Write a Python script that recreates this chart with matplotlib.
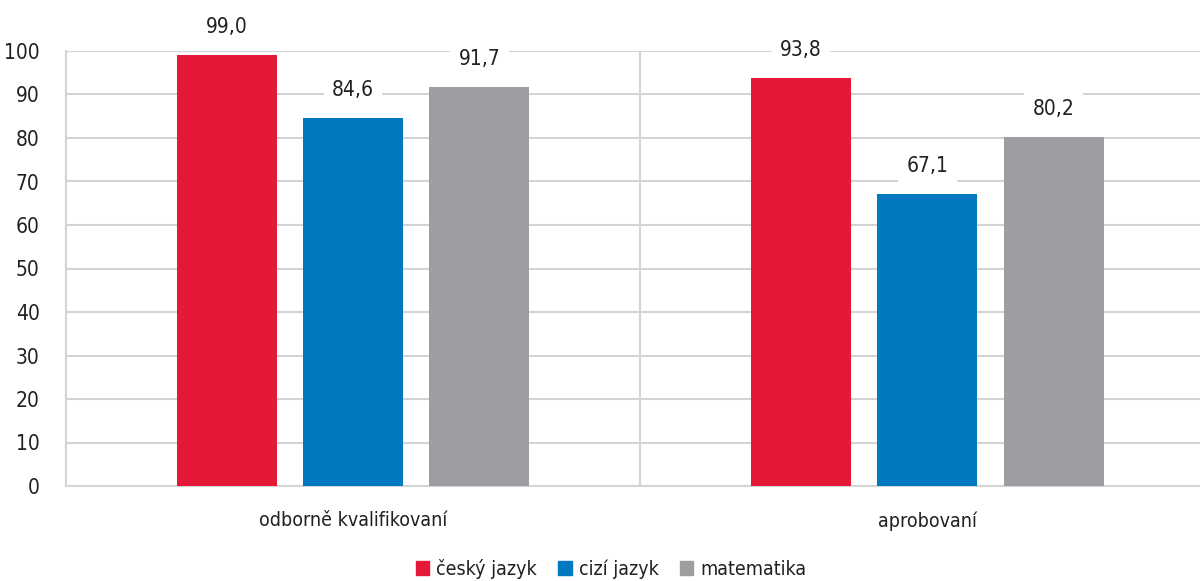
import numpy as np
from matplotlib import pyplot as plt
from matplotlib.patches import Patch

categories = ["odborně kvalifikovaní", "aprobovaní"]
series = ["český jazyk", "cizí jazyk", "matematika"]
values = [[99.0, 93.8], [84.6, 67.1], [91.7, 80.2]]
colors = ["#E41937", "#0079C1", "#9D9EA2"]
yticks = np.arange(0, 101, 10)

plt.rcParams['font.family'] = ['DejaVu Sans']
plt.rcParams['font.stretch'] = 'condensed'
plt.rcParams['font.size'] = 14.5

fig = plt.figure(figsize=(12.0, 5.81), dpi=100)
ax = fig.add_axes([66 / 1200, 1 - 486 / 581, 1 - 66 / 1200, (486 - 51) / 581])

x = np.arange(len(categories))
width = 0.174
offsets = [-0.22, 0.0, 0.22]
grid_c = "#D4D4D4"
text_c = "#231F20"

for vals, off, col in zip(values, offsets, colors):
    bars = ax.bar(x + off, vals, width, color=col, zorder=3)
    for b, v in zip(bars, vals):
        ax.text(b.get_x() + b.get_width() / 2, v + 6.5, "{:.1f}".format(v).replace(".", ","),
                ha="center", va="center", fontsize=15, color=text_c, zorder=4,
                bbox=dict(facecolor="white", edgecolor="none", pad=6))

ax.set_ylim(0, 100)
ax.set_xlim(-0.5, 1.5 - 14.5 / 575)
ax.set_yticks(yticks)
ax.set_xticks([])
ax.set_xticks([0.5], minor=True)
ax.grid(axis="y", color=grid_c, linewidth=1.5, zorder=0)
ax.xaxis.grid(True, which="minor", color=grid_c, linewidth=1.5, zorder=0)
ax.tick_params(axis="both", which="both", length=0, labelcolor=text_c)
ax.tick_params(axis="y", pad=19, labelsize=15)
for s in ["top", "right"]:
    ax.spines[s].set_visible(False)
for s in ["left", "bottom"]:
    ax.spines[s].set_color(grid_c)
    ax.spines[s].set_linewidth(1.5)

for xi, cat in zip(x, categories):
    ax.text(xi, -8, cat, ha="center", va="center", fontsize=14, color=text_c)

handles = [Patch(color=c, label=s) for c, s in zip(colors, series)]
fig.legend(handles=handles, loc="center", bbox_to_anchor=(611 / 1200, 1 - 569 / 581), ncol=3,
           frameon=False, handlelength=0.7, handleheight=0.7, handletextpad=0.35,
           columnspacing=1.1, fontsize=14, labelcolor=text_c)

plt.savefig("out.png")
